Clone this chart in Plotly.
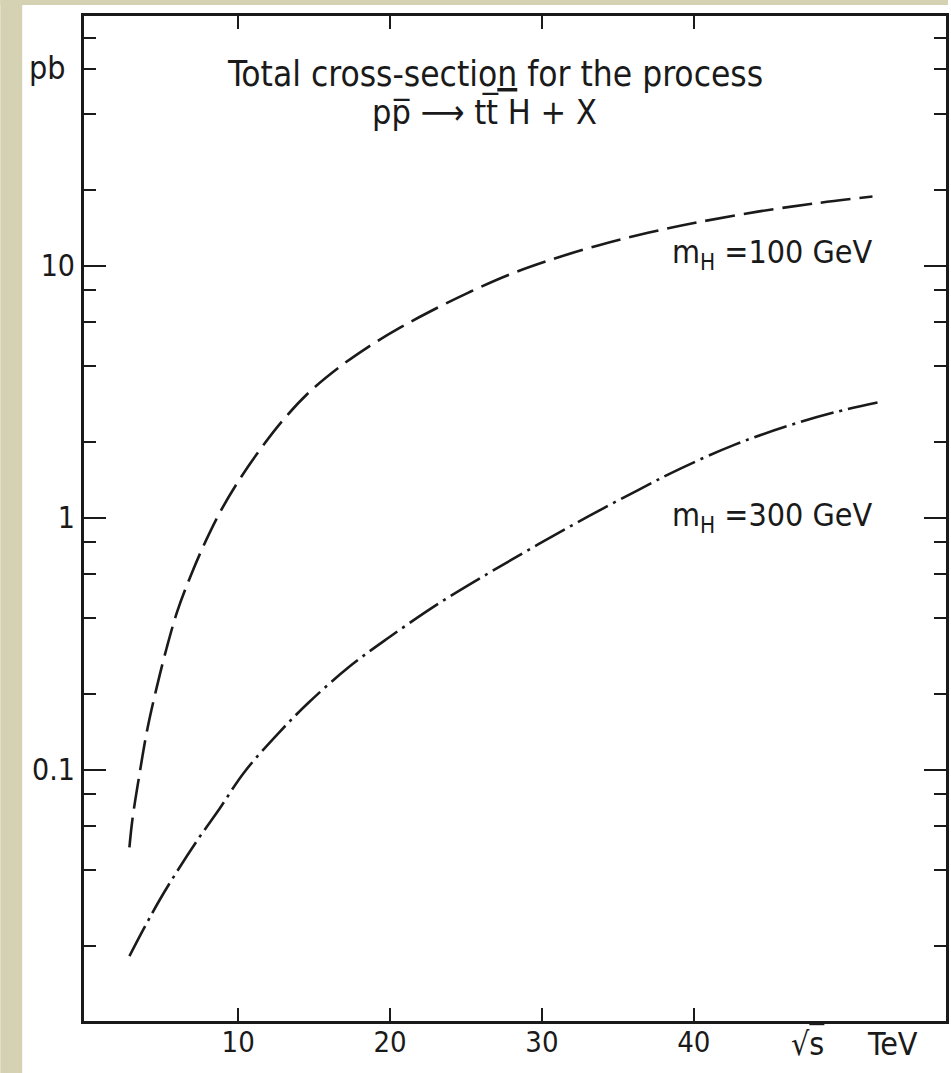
import plotly.graph_objects as go

# ---- data ----
sqrt_s_100 = [2.84, 3.04, 3.50, 4.02, 4.61, 5.27, 5.99, 6.91, 7.90, 8.88, 10.07, 11.38, 12.89,
              14.66, 16.63, 18.60, 20.57, 22.54, 25.16, 27.79, 30.42, 33.70, 36.98, 40.27,
              44.21, 48.15, 51.76]
sigma_100 = [0.0493, 0.0637, 0.0959, 0.145, 0.209, 0.301, 0.425, 0.596, 0.817, 1.072, 1.413,
             1.841, 2.415, 3.141, 3.945, 4.775, 5.636, 6.531, 7.816, 9.183, 10.47, 12.02,
             13.49, 14.86, 16.37, 17.70, 18.79]

sqrt_s_300 = [2.84, 3.83, 4.81, 6.13, 7.44, 8.75, 10.39, 12.69, 14.66, 17.29, 19.92, 23.20,
              26.48, 29.77, 33.05, 36.33, 39.15, 42.70, 46.18, 49.26, 52.09]
sigma_300 = [0.01824, 0.02371, 0.03034, 0.04093, 0.05395, 0.06982, 0.0977, 0.1406, 0.1854,
             0.2559, 0.3350, 0.4571, 0.6026, 0.7852, 1.012, 1.288, 1.570, 1.950, 2.312,
             2.618, 2.864]

x_tick_vals = [10, 20, 30, 40]
x_tick_text = ["10", "20", "30", "40"]
y_tick_vals = [0.1, 1, 10]
y_tick_text = ["0.1", "1", "10"]
y_minor_vals = [m * d for d in (0.01, 0.1, 1, 10) for m in (2, 4, 6, 8)]

label_100 = "m<sub>H</sub> =100 GeV"
label_300 = "m<sub>H</sub> =300 GeV"
title_1 = "Total cross-sectio<u>n</u> for the process"
title_2 = "pp\u0305 \u27f6 tt\u0305 H + X"

# ---- layout geometry ----
W_FIG, H_FIG = 951, 1073
L, R, T, B = 84, 2, 16, 52
PW, PH = W_FIG - L - R, H_FIG - T - B


def px(xp):
    return (xp - L) / PW


def py(yp):
    return (T + PH - yp) / PH


FONT = "Liberation Sans Narrow, DejaVu Sans Condensed, Roboto Condensed, Liberation Sans, sans-serif"
INK = "#1a1a1a"

fig = go.Figure()
fig.add_trace(go.Scatter(x=sqrt_s_100, y=sigma_100, mode="lines", line_shape="spline",
                         line=dict(color=INK, width=2.6, dash="30px,9px"), name="mH=100 GeV"))
fig.add_trace(go.Scatter(x=sqrt_s_300, y=sigma_300, mode="lines", line_shape="spline",
                         line=dict(color=INK, width=2.6, dash="34px,6px,3px,6px"), name="mH=300 GeV"))

fig.update_layout(
    width=W_FIG, height=H_FIG,
    margin=dict(l=L, r=R, t=T, b=B),
    paper_bgcolor="white", plot_bgcolor="white",
    showlegend=False,
    font=dict(family=FONT, size=31, color=INK),
    xaxis=dict(range=[-0.15, 56.6], showgrid=False, zeroline=False,
               showline=True, linecolor=INK, linewidth=3, mirror="allticks",
               ticks="inside", ticklen=13, tickwidth=2, tickcolor=INK,
               tickmode="array", tickvals=x_tick_vals, ticktext=x_tick_text,
               tickfont=dict(family=FONT, size=29, color=INK), ticklabelstandoff=-7),
    yaxis=dict(type="log", range=[-1.996, 1.99], showgrid=False, zeroline=False,
               showline=True, linecolor=INK, linewidth=3, mirror="allticks",
               ticks="inside", ticklen=22, tickwidth=2, tickcolor=INK,
               tickmode="array", tickvals=y_tick_vals, ticktext=y_tick_text,
               tickfont=dict(family=FONT, size=30, color=INK), ticklabelstandoff=0,
               minor=dict(tickmode="array", tickvals=y_minor_vals, ticks="inside",
                          ticklen=12, tickwidth=2, tickcolor=INK, showgrid=False)),
)

# scanned page border (beige strips)
BEIGE = "#d5d2b3"
fig.add_shape(type="rect", xref="paper", yref="paper", x0=px(0), x1=px(22), y0=py(H_FIG), y1=py(0),
              fillcolor=BEIGE, line_width=0, layer="below")
fig.add_shape(type="rect", xref="paper", yref="paper", x0=px(0), x1=px(W_FIG), y0=py(5), y1=py(0),
              fillcolor=BEIGE, line_width=0, layer="below")

ann = [
    dict(text=title_1, x=px(496), y=py(74), xanchor="center", yanchor="middle", size=35),
    dict(text=title_2, x=px(486), y=py(112), xanchor="center", yanchor="middle", size=34),
    dict(text="pb", x=px(47), y=py(68), xanchor="center", yanchor="middle", size=32),
    dict(text=label_100, x=px(672), y=py(254), xanchor="left", yanchor="middle", size=32),
    dict(text=label_300, x=px(672), y=py(517), xanchor="left", yanchor="middle", size=32),
    dict(text="\u221a<span style='text-decoration:overline'>s</span>", x=px(810), y=py(1044),
         xanchor="center", yanchor="middle", size=32),
    dict(text="TeV", x=px(895), y=py(1044), xanchor="center", yanchor="middle", size=32),
]
for a in ann:
    s = a.pop("size")
    fig.add_annotation(xref="paper", yref="paper", showarrow=False,
                       font=dict(family=FONT, size=s, color=INK), **a)

fig.write_html("out.html", config={"displayModeBar": False},
               post_script="document.body.style.margin='0px';document.body.style.overflow='hidden';")
